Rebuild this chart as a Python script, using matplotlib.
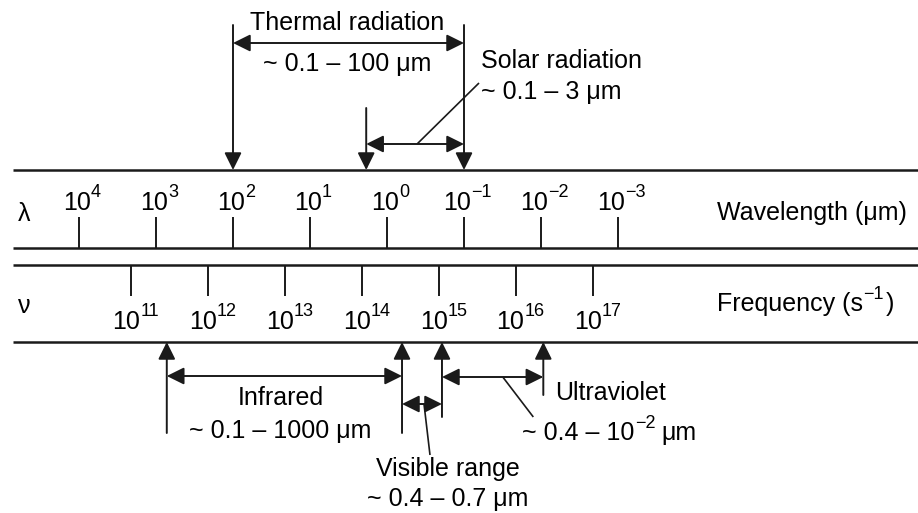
import matplotlib.pyplot as plt
from matplotlib.patches import FancyArrowPatch

plt.rcParams['font.family'] = 'Liberation Sans'

# Decades marked on the two scales
wl_exponents = [4, 3, 2, 1, 0, -1, -2, -3]        # wavelength, um
freq_exponents = [11, 12, 13, 14, 15, 16, 17]      # frequency, s^-1
FREQ_SHIFT = 14.33   # log10(nu) sitting under lambda = 1 um on this chart

# Band edges as log10(wavelength / um), long-wave end first
thermal = (2.0, -1.0)
solar = (0.27, -1.0)
infrared = (2.86, -0.195)
visible = (-0.195, -0.714)
ultraviolet = (-0.714, -2.03)

# layout (vertical positions in pixels from the top)
PX_PER_DEC = 77.0
TOP_LINE, WL_LINE, FQ_LINE, BOT_LINE = 170, 248, 265, 342
INK = '#1a1a1a'
FS = 18
FS_SUP = 13

fig = plt.figure(figsize=(9.18, 5.13), dpi=100)
ax = fig.add_axes([0, 0, 1, 1])
ax.set_xlim(-387 / PX_PER_DEC, (918 - 387) / PX_PER_DEC)
ax.set_ylim(513, 0)
ax.axis('off')
renderer = fig.canvas.get_renderer()


def xpos(log_wl):
    # scale runs from long wavelength (left) to short wavelength (right)
    return -log_wl


def px(n):
    # horizontal pixel offset expressed in decades
    return n / PX_PER_DEC


def arrow(p0, p1, style):
    ax.add_patch(FancyArrowPatch(
        p0, p1, arrowstyle=style + ',head_length=10.5,head_width=5.2',
        color=INK, lw=1.4, shrinkA=0, shrinkB=0, mutation_scale=1))


def line(xs, ys, lw=1.4):
    ax.plot(xs, ys, color=INK, lw=lw, solid_capstyle='butt')


def rich(x, y, parts, ha='left'):
    # parts: (text, fontsize, rise in px, gap before in px), set side by side
    objs, widths = [], []
    for s, fs, rise, gap in parts:
        t = ax.text(x, y - rise, s, fontsize=fs, ha='left', va='baseline')
        objs.append(t)
        widths.append(gap + t.get_window_extent(renderer).width)
    total = sum(widths)
    cur = x - px(total / 2) if ha == 'center' else x
    for t, w, p in zip(objs, widths, parts):
        t.set_x(cur + px(p[3]))
        cur += px(w)


def power(e):
    return str(e).replace('-', '\u2212')


# the four long rules framing the two scales
x_left, x_right = ax.get_xlim()
for y in (TOP_LINE, WL_LINE, FQ_LINE, BOT_LINE):
    line([x_left + px(13), x_right], [y, y], lw=1.8)

# wavelength scale
for e in wl_exponents:
    x = xpos(e)
    line([x, x], [217, WL_LINE])
    rich(x + px(3), 210, [('10', FS, 0, 0), (power(e), FS_SUP, 13, 0)],
         ha='center')
ax.text(x_left + px(18), 214, 'λ', fontsize=FS, ha='left', va='center')
ax.text(x_left + px(717), 213, 'Wavelength (μm)', fontsize=FS,
        ha='left', va='center')

# frequency scale
for e in freq_exponents:
    x = e - FREQ_SHIFT
    line([x, x], [FQ_LINE, 296])
    rich(x + px(5), 329, [('10', FS, 0, 0), (power(e), FS_SUP, 13, 0)],
         ha='center')
ax.text(x_left + px(18), 306, 'ν', fontsize=FS, ha='left', va='center')
rich(x_left + px(717), 311, [('Frequency (s', FS, 0, 0),
                             ('\u22121', FS_SUP, 12, 0),
                             (')', FS, 0, 2)])

# thermal radiation bracket (above)
tl, tr = xpos(thermal[0]), xpos(thermal[1])
arrow((tl, 25), (tl, TOP_LINE), '-|>')
arrow((tr, 25), (tr, TOP_LINE), '-|>')
arrow((tl, 43), (tr, 43), '<|-|>')
tm = (tl + tr) / 2 - px(1)
ax.text(tm, 23, 'Thermal radiation', fontsize=FS, ha='center', va='center')
ax.text(tm, 64, '~ 0.1 – 100 μm', fontsize=FS, ha='center', va='center')

# solar radiation bracket (above)
sl, sr = xpos(solar[0]), xpos(solar[1])
arrow((sl, 108), (sl, TOP_LINE), '-|>')
arrow((sl, 144), (sr, 144), '<|-|>')
sm = sl + 0.52 * (sr - sl)
line([sm, sr + px(15)], [144, 83], lw=1.2)
ax.text(sr + px(17), 61, 'Solar radiation', fontsize=FS, ha='left', va='center')
ax.text(sr + px(17), 92, '~ 0.1 – 3 μm', fontsize=FS, ha='left', va='center')

# infrared bracket (below)
il, ir = xpos(infrared[0]), xpos(infrared[1])
arrow((il, 433), (il, BOT_LINE), '-|>')
arrow((ir, 433), (ir, BOT_LINE), '-|>')
arrow((il, 376), (ir, 376), '<|-|>')
im = (il + ir) / 2 - px(4)
ax.text(im, 398, 'Infrared', fontsize=FS, ha='center', va='center')
ax.text(im, 431, '~ 0.1 – 1000 μm', fontsize=FS, ha='center', va='center')

# visible bracket (below), left edge shared with infrared
vl, vr = xpos(visible[0]), xpos(visible[1])
arrow((vr, 417), (vr, BOT_LINE), '-|>')
arrow((vl, 404), (vr, 404), '<|-|>')
vm = vl + 0.55 * (vr - vl)
line([vm, vm + px(6)], [404, 455], lw=1.2)
ax.text(vm + px(24), 469, 'Visible range', fontsize=FS, ha='center', va='center')
ax.text(vm + px(24), 499, '~ 0.4 – 0.7 μm', fontsize=FS, ha='center', va='center')

# ultraviolet bracket (below), left edge shared with visible
ul, ur = xpos(ultraviolet[0]), xpos(ultraviolet[1])
arrow((ur, 395), (ur, BOT_LINE), '-|>')
arrow((ul, 377), (ur, 377), '<|-|>')
um = ul + 0.6 * (ur - ul)
line([um, ur - px(10)], [377, 417], lw=1.2)
ax.text(ur + px(12), 393, 'Ultraviolet', fontsize=FS, ha='left', va='center')
rich(ur - px(21), 440, [('~ 0.4 – 10', FS, 0, 0),
                        ('\u22122', FS_SUP, 12, 0),
                        ('μm', FS, 0, 6)])

fig.savefig('out.png', dpi=100)
